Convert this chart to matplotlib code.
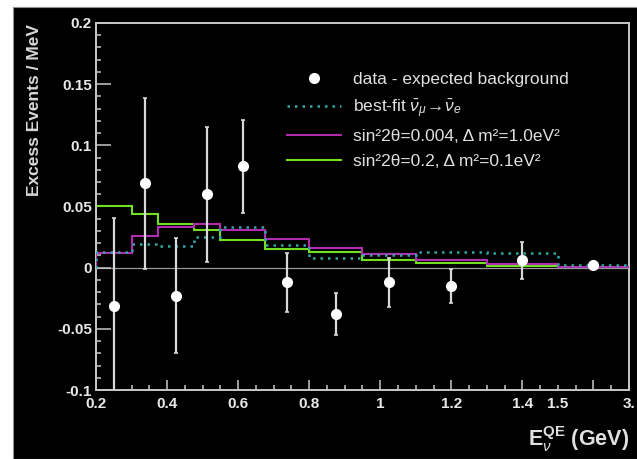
import numpy as np
import matplotlib
matplotlib.use("Agg")
import matplotlib.pyplot as plt
from matplotlib.patches import Rectangle

plt.rcParams['font.family'] = ['Liberation Sans', 'DejaVu Sans']
plt.rcParams['mathtext.fontset'] = 'custom'
plt.rcParams['mathtext.rm'] = 'Liberation Sans'
plt.rcParams['mathtext.it'] = 'Liberation Sans:italic'
plt.rcParams['mathtext.bf'] = 'Liberation Sans:bold'

# bin edges in E_nu^QE (GeV); last bin 1.5-3.0 is drawn compressed
edges = [0.2, 0.3, 0.375, 0.475, 0.55, 0.675, 0.8, 0.95, 1.1, 1.3, 1.5, 3.0]
centers = [0.25, 0.3375, 0.425, 0.5125, 0.6125, 0.7375, 0.875, 1.025, 1.2, 1.4, 2.25]

excess = [-0.031, 0.069, -0.023, 0.060, 0.083, -0.012, -0.038, -0.012, -0.015, 0.006, 0.002]
excess_err = [0.072, 0.070, 0.047, 0.055, 0.038, 0.024, 0.017, 0.020, 0.014, 0.015, 0.002]

best_fit = [0.0125, 0.0197, 0.0176, 0.0249, 0.0334, 0.0184, 0.0081, 0.0103, 0.0128, 0.0119, 0.0024]
osc_004_1 = [0.012, 0.026, 0.0332, 0.036, 0.0305, 0.0237, 0.0162, 0.0113, 0.0060, 0.0027, 0.0007]
osc_02_01 = [0.050, 0.044, 0.036, 0.0305, 0.0224, 0.0154, 0.0127, 0.0062, 0.0040, 0.0013, 0.0004]

major_vals = [0.2, 0.4, 0.6, 0.8, 1.0, 1.2, 1.4, 2.25]
major_labels = ['0.2', '0.4', '0.6', '0.8', '1', '1.2', '1.4', '']
yticks = [-0.1, -0.05, 0, 0.05, 0.1, 0.15, 0.2]
ytick_labels = ['-0.1', '-0.05', '0', '0.05', '0.1', '0.15', '0.2']


def fwd(x):
    x = np.asarray(x, dtype=float)
    return np.where(x <= 1.5, x, 1.5 + (x - 1.5) * 0.2 / 1.5)


def inv(d):
    d = np.asarray(d, dtype=float)
    return np.where(d <= 1.5, d, 1.5 + (d - 1.5) * 1.5 / 0.2)


fig = plt.figure(figsize=(6.37, 4.59), dpi=100, facecolor='white')
fig.patches.append(Rectangle((13 / 637, 0), 1, 452 / 459, transform=fig.transFigure,
                             facecolor='black', edgecolor='#909090', lw=0.8, zorder=-10))

ax = fig.add_axes([96 / 637, 1 - 390 / 459, 533 / 637, 367 / 459])
ax.set_facecolor('black')
ax.set_xscale('function', functions=(fwd, inv))
ax.set_xlim(0.2, 3.0)
ax.set_ylim(-0.1, 0.2)

ax.axhline(0, color='#9a9a9a', lw=0.9, zorder=1)

bf = ax.stairs(best_fit, edges, color='#2fa6a8', lw=1.8, linestyle=(0, (1, 2)), zorder=4,
               label=r'best-fit $\bar{\nu}_{\mu}\!\rightarrow\!\bar{\nu}_{e}$')
m1 = ax.stairs(osc_004_1, edges, color='#b02cb0', lw=1.5, zorder=3,
               label='sin²2θ=0.004, Δ m²=1.0eV²')
m2 = ax.stairs(osc_02_01, edges, color='#72e020', lw=1.5, zorder=2,
               label='sin²2θ=0.2, Δ m²=0.1eV²')

ax.errorbar(centers, excess, yerr=excess_err, fmt='none', ecolor='#d8d8d8',
            elinewidth=1.6, capsize=1.5, capthick=1.2, zorder=5)
dat, = ax.plot(centers, excess, 'o', color='white', ms=7, mec='white', zorder=6,
               label='data - expected background')

# ticks
disp_minor = np.round(np.arange(0.25, 1.7001, 0.05), 3)
disp_minor = [d for d in disp_minor if abs((d - 0.2) / 0.2 - round((d - 0.2) / 0.2)) > 1e-6]
minor_vals = [float(inv(d)) for d in disp_minor]
minor_labels = ['1.5' if abs(v - 1.5) < 1e-6 else ('3.' if abs(v - 3.0) < 1e-6 else '')
                for v in minor_vals]
ax.set_xticks(major_vals, major_labels)
ax.set_xticks(minor_vals, minor_labels, minor=True)
ax.set_yticks(yticks, ytick_labels)
ax.set_yticks(np.round(np.arange(-0.1, 0.2001, 0.01), 3), minor=True)

tc = '#c8c8c8'
ax.tick_params(axis='both', which='both', direction='in', colors=tc, width=1.1,
               labelcolor='#e8e8e8', top=False, right=False)
ax.tick_params(axis='x', which='major', length=7.2, pad=5)
ax.tick_params(axis='x', which='minor', length=3.6, pad=5)
ax.tick_params(axis='y', which='major', length=10.8, pad=3)
ax.tick_params(axis='y', which='minor', length=3.6)
for lab in ax.get_xticklabels(which='both') + ax.get_yticklabels():
    lab.set_fontweight('bold')
    lab.set_fontsize(11)
for sp in ax.spines.values():
    sp.set_color(tc)
    sp.set_linewidth(1.4)

fig.text(35 / 637, 1 - 24 / 459, 'Excess Events / MeV', rotation=90, ha='center', va='top',
         fontsize=12.5, fontweight='bold', color='#d8d8d8')
fig.text(629 / 637, 1 - 446 / 459, r'$\mathbf{E}_{\nu}^{\mathbf{QE}}$ (GeV)', ha='right',
         va='baseline', fontsize=15.5, fontweight='bold', color='#e0e0e0')

ax.legend(handles=[dat, bf, m1, m2], loc='upper left',
          bbox_to_anchor=(287 / 637, 1 - 72 / 459), bbox_transform=fig.transFigure,
          frameon=False, fontsize=12.5, labelcolor='#e0e0e0', handlelength=3.1,
          handletextpad=0.7, labelspacing=0.55, borderpad=0, borderaxespad=0)

fig.savefig('out.png', dpi=100, facecolor='white')
